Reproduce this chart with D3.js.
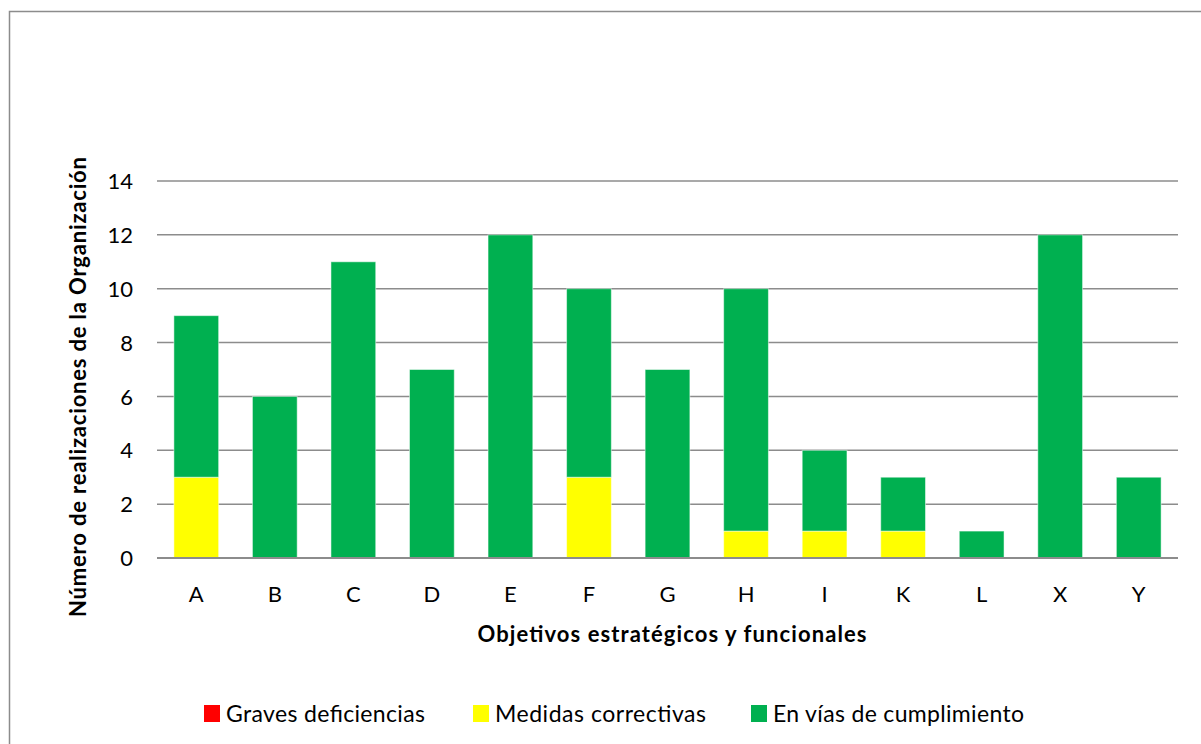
<!DOCTYPE html>
<html><head><meta charset="utf-8">
<script src="https://cdn.jsdelivr.net/npm/d3@7"></script>
<style>body{margin:0;background:#fff}svg{display:block}text{font-family:Lato,"Open Sans",sans-serif;fill:#000}</style>
</head><body>
<svg id="c" width="1201" height="744"></svg>
<script>
const categories = ["A","B","C","D","E","F","G","H","I","K","L","X","Y"];
const graves     = [0,0,0,0,0,0,0,0,0,0,0,0,0];
const medidas    = [3,0,0,0,0,3,0,1,1,1,0,0,0];
const enVias     = [6,6,11,7,12,7,7,9,3,2,1,12,3];
const yTicks = [0,2,4,6,8,10,12,14];
const seriesNames = ["Graves deficiencias","Medidas correctivas","En vías de cumplimiento"];
const seriesColors = ["#FF0000","#FFFF00","#00B050"];
const yTitle = "Número de realizaciones  de la Organización";
const xTitle = "Objetivos estratégicos y funcionales";

const svg = d3.select("#c");
svg.append("rect").attr("x",9.5).attr("y",11.5).attr("width",1220).attr("height",760)
  .attr("fill","none").attr("stroke","#8c8c8c").attr("stroke-width",1.5);

const L=157, R=1178, T=181, B=558;
const x = d3.scaleBand().domain(categories).range([L,R]).paddingInner(0.43).paddingOuter(0.215);
const y = d3.scaleLinear().domain([0,14]).range([B,T]);

const g = svg.append("g");
g.selectAll("line.grid").data(yTicks).join("line")
  .attr("x1",L).attr("x2",R).attr("y1",d=>y(d)).attr("y2",d=>y(d))
  .attr("stroke","#8c8c8c").attr("stroke-width",1.5);

const rows = categories.map((c,i)=>({cat:c, g:graves[i], m:medidas[i], v:enVias[i]}));
const stack = d3.stack().keys(["g","m","v"])(rows);
stack.forEach((s,si)=>{
  g.selectAll(null).data(s.filter(d=>d[1]>d[0])).join("rect")
    .attr("x",d=>x(d.data.cat)).attr("width",x.bandwidth())
    .attr("y",d=>y(d[1])).attr("height",d=>y(d[0])-y(d[1]))
    .attr("fill",seriesColors[si]).attr("stroke","rgba(255,255,255,0.5)").attr("stroke-width",1);
});

g.append("line").attr("x1",L).attr("x2",R).attr("y1",B).attr("y2",B)
  .attr("stroke","#8c8c8c").attr("stroke-width",2);

const yAxis = d3.axisLeft(y).tickValues(yTicks).tickSize(0).tickPadding(24);
const ya = svg.append("g").attr("transform",`translate(${L},0)`).call(yAxis);
ya.select(".domain").remove();
ya.selectAll("text").style("font-family","Lato, sans-serif").style("font-size","22px").attr("fill","#000").attr("dy","0.35em");

const xAxis = d3.axisBottom(x).tickSize(0).tickPadding(28);
const xa = svg.append("g").attr("transform",`translate(0,${B})`).call(xAxis);
xa.select(".domain").remove();
xa.selectAll("text").style("font-family","Lato, sans-serif").style("font-size","22px").attr("fill","#000");

svg.append("text").attr("transform","translate(86,387) rotate(-90)").attr("text-anchor","middle")
  .style("font-size","22px").style("font-weight","bold")
  .attr("textLength",460).attr("lengthAdjust","spacing").text(yTitle);
svg.append("text").attr("x",672).attr("y",642).attr("text-anchor","middle")
  .style("font-size","22px").style("font-weight","bold")
  .attr("textLength",389).attr("lengthAdjust","spacing").text(xTitle);

const legX = [204,473,751];
const legW = [199,211,251];
seriesNames.forEach((n,i)=>{
  svg.append("rect").attr("x",legX[i]).attr("y",705).attr("width",16).attr("height",17).attr("fill",seriesColors[i]);
  svg.append("text").attr("x",legX[i]+22).attr("y",722).style("font-size","23px")
    .attr("textLength",legW[i]).attr("lengthAdjust","spacing").text(n);
});
</script>
</body></html>
